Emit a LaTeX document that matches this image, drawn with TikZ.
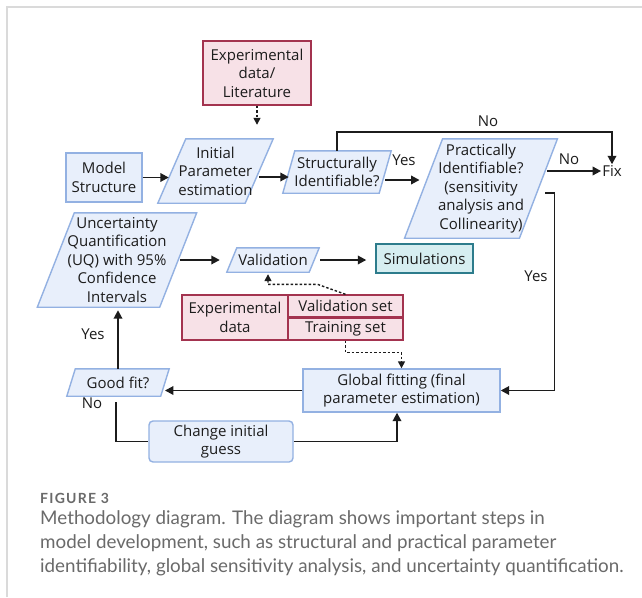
\documentclass[tikz,border=0pt]{standalone}
\usepackage{fontspec}
\setmainfont{Open Sans}
\newfontfamily\capfont{Lato}
\usetikzlibrary{arrows.meta,backgrounds}
\definecolor{bfill}{HTML}{E8EFFB}
\definecolor{bline}{HTML}{93B1E2}
\definecolor{pfill}{HTML}{F7E1E7}
\definecolor{pline}{HTML}{A3334F}
\definecolor{tfill}{HTML}{D6EEF1}
\definecolor{tline}{HTML}{2D7C8C}
\definecolor{ink}{HTML}{1C1C1C}
\definecolor{gline}{HTML}{DADADA}
\definecolor{capgray}{HTML}{6A6A6A}
\tikzset{
  base/.style={inner sep=0pt, align=center, font=\fontsize{15}{18.5}\selectfont, text=ink},
  bluebox/.style={base, draw=bline, fill=bfill, line width=1.4pt},
  pinkbox/.style={base, draw=pline, fill=pfill, line width=1.4pt},
  tealbox/.style={base, draw=tline, fill=tfill, line width=1.4pt},
  pgnode/.style={base},
  pgshape/.style={draw=bline, fill=bfill, line width=1.4pt, line join=miter},
  arr/.style={line width=1.9pt, draw=ink, -{Triangle[length=8.5pt,width=8.5pt]}},
  plain/.style={line width=1.9pt, draw=ink},
  dots/.style={line width=1.4pt, draw=ink, dash pattern=on 2.5pt off 2pt, -{Triangle[length=7pt,width=7pt]}},
  lbl/.style={base, inner sep=1pt},
  captext/.style={anchor=base west, inner sep=0pt, text=capgray, font=\capfont\fontsize{18.8}{24}\selectfont},
}
\newcommand{\pgdraw}[2]{%
  \begin{scope}[on background layer]
    \draw[pgshape] ([xshift=#2]#1.north west) -- ([xshift=#2]#1.north east)
      -- ([xshift=-#2]#1.south east) -- ([xshift=-#2]#1.south west) -- cycle;
  \end{scope}}
\begin{document}
\begin{tikzpicture}[x=1pt,y=-1pt]
\begin{scope}[on background layer]
  \fill[white] (0,0) rectangle (642,597);
\end{scope}
\useasboundingbox (0,0) rectangle (642,597);
\draw[gline, line width=1.2pt] (7,597) -- (7,7) -- (642,7);

% nodes
\node[pinkbox, minimum width=108pt, minimum height=64pt] (el) at (257,73) {Experimental\\data/\\Literature};
\node[bluebox, minimum width=76pt, minimum height=49pt] (ms) at (104,177.5) {Model\\Structure};
\node[pgnode, minimum width=87pt, minimum height=64pt] (ip) at (215.5,171) {Initial\\Parameter\\estimation};
\node[pgnode, minimum width=96pt, minimum height=42pt] (si) at (337,172) {Structurally\\Identifiable?};
\node[pgnode, minimum width=114.5pt, minimum height=99pt] (pi) at (481,188.5) {Practically\\Identifiable?\\(sensitivity\\analysis and\\Collinearity)};
\node[lbl] (fix) at (612,171) {Fix};
\node[pgnode, minimum width=122pt, minimum height=94pt] (uq) at (117,260) {Uncertainty\\Quantification\\(UQ) with 95\%\\Confidence\\Intervals};
\node[pgnode, minimum width=82pt, minimum height=24pt] (val) at (273,260) {Validation};
\node[tealbox, minimum width=97pt, minimum height=29pt] (sim) at (424.5,258.5) {Simulations};
\node[pinkbox, minimum width=106pt, minimum height=45pt] (ed) at (235,317.5) {Experimental\\data};
\node[pinkbox, minimum width=115pt, minimum height=22pt] (vs) at (345.5,306) {Validation set};
\node[pinkbox, minimum width=115pt, minimum height=22pt] (ts) at (345.5,329) {Training set};
\node[bluebox, minimum width=197pt, minimum height=43pt] (gf) at (401.5,390.5) {Global fitting (final\\parameter estimation)};
\node[pgnode, minimum width=93.5pt, minimum height=27pt] (gfit) at (118,382.5) {Good fit?};
\node[bluebox, rounded corners=4pt, minimum width=144pt, minimum height=41pt] (cig) at (221,441.5) {Change initial\\guess};

\pgdraw{ip}{14pt}
\pgdraw{si}{6pt}
\pgdraw{pi}{19pt}
\pgdraw{uq}{18.5pt}
\pgdraw{val}{5pt}
\pgdraw{gfit}{4.25pt}

% labels
\node[lbl] (yes1) at (404,160) {Yes};
\node[lbl] (no1) at (488,121) {No};
\node[lbl] (no2) at (569,159) {No};
\node[lbl] (yes2) at (536,276) {Yes};
\node[lbl] (yes3) at (93,334) {Yes};
\node[lbl] (no3) at (92,403) {No};

% connectors
\draw[dots] (el.south) -- ([yshift=14pt]el.south |- ip.north);
\draw[arr, shorten >=3pt] (ms.east) -- (ms.east -| ip.west);
\draw[arr] ([yshift=-6pt]ip.east) -- ([yshift=-6pt]ip.east -| si.west);
\draw[arr, shorten >=4pt] ([yshift=-8pt]si.east) -- ([yshift=-8pt]si.east -| pi.west);
\draw[arr] (si.north) -- ++(0,-19) -| (fix.north);
\draw[arr, shorten <=9pt] (pi.east |- fix.west) -- (fix.west);
\draw[arr, shorten <=7pt] ([yshift=-4.5pt]pi.east) -- ++(16,0) |- (gf.east);
\draw[arr] (gf.west) -- (gf.west -| gfit.east);
\draw[arr, shorten >=3pt] (gfit.north) -- (gfit.north |- uq.south);
\draw[plain] ([xshift=-2pt,yshift=-6pt]gfit.south) |- (cig.west);
\draw[arr] (cig.east) -| ([xshift=-4.5pt]gf.south);
\draw[arr, shorten <=2pt, shorten >=12pt] (uq.east |- val.west) -- (val.west);
\draw[arr, shorten <=6pt, shorten >=9pt] (val.east) -- (val.east -| sim.west);
\draw[dots, shorten >=2pt] (vs.north) -- ++(-28,-10) -| ([xshift=-5pt]val.south);
\draw[dots] (ts.south) -- ++(0,12) -| (gf.north);

% caption
\node[anchor=base west, inner sep=0pt, text=capgray, font=\capfont\bfseries\fontsize{14}{16}\selectfont\addfontfeatures{LetterSpace=9}] (figlbl) at (40,503) {FIGURE 3};
\node[captext] (cap1) at (40,524) {Methodology diagram. The diagram shows important steps in};
\node[captext] (cap2) at (40,548) {model development, such as structural and practical parameter};
\node[captext] (cap3) at (40,572) {identifiability, global sensitivity analysis, and uncertainty quantification.};
\end{tikzpicture}
\end{document}
